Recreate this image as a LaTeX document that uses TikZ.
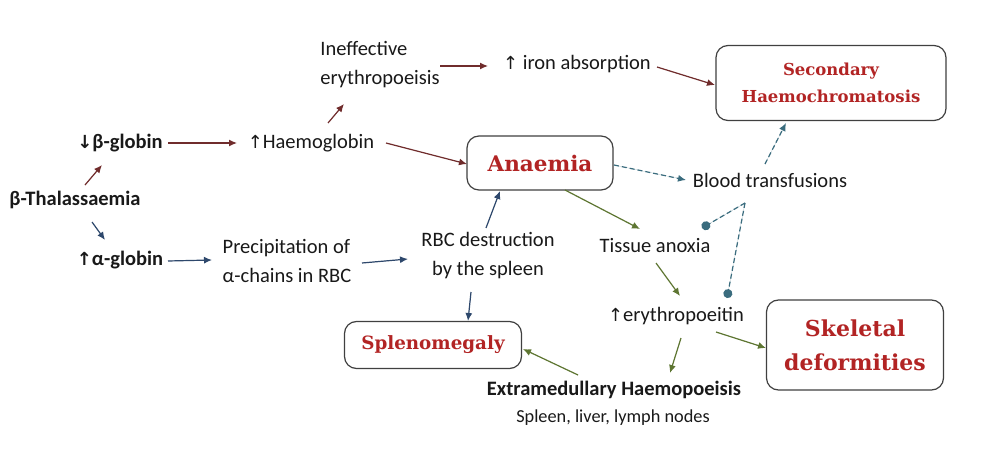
\documentclass[tikz,border=0pt]{standalone}
\usepackage{fontspec}
\setmainfont{Carlito}
\newfontfamily\titlefont{DejaVu Serif}
\newfontfamily\arrfont{DejaVu Sans}
\usetikzlibrary{arrows.meta,calc}
\definecolor{maroon}{RGB}{112,44,44}
\definecolor{navy}{RGB}{46,72,108}
\definecolor{olive}{RGB}{94,118,50}
\definecolor{teal2}{RGB}{58,108,126}
\definecolor{titlered}{RGB}{178,36,36}
\definecolor{boxline}{RGB}{64,64,64}
\newcommand{\up}{{\arrfont\fontsize{18}{18}\selectfont ↑}}
\newcommand{\down}{{\arrfont\fontsize{18}{18}\selectfont ↓}}
\begin{document}
\begin{tikzpicture}[x=1pt,y=-1pt,
  txt/.style={inner sep=0pt,text=black!90,font=\fontsize{20.5}{29}\selectfont},
  btxt/.style={txt,font=\fontsize{20.5}{29}\selectfont\bfseries},
  tbox/.style={draw=boxline,line width=1.2pt,rounded corners=12pt,fill=white,text=titlered,align=center},
  conn/.style={line width=1.2pt,-{Latex[length=8pt,width=7pt]}},
  mar/.style={conn,draw=maroon,fill=maroon},
  nav/.style={conn,draw=navy,fill=navy},
  grn/.style={conn,draw=olive,fill=olive},
  tdash/.style={line width=1.2pt,draw=teal2,dash pattern=on 5pt off 3pt},
  tarr/.style={tdash,-{Latex[length=8pt,width=7pt]},fill=teal2},
  tdot/.style={tdash,-{Circle[length=9pt,width=9pt]},fill=teal2}]
\useasboundingbox[fill=white] (0,0) rectangle (994,460);

\node[btxt] (thal) at (75,200) {β-Thalassaemia};
\node[btxt] (bglob) at (120,143) {\down β-globin};
\node[btxt] (aglob) at (120,260) {\up α-globin};
\node[txt] (hb) at (311,143) {\up Haemoglobin};
\node[txt,align=left] (ineff) at (380,65) {Ineffective\\erythropoeisis};
\node[txt] (iron) at (577,64) {\up\ iron absorption};
\node[tbox,minimum width=230pt,minimum height=75pt,font=\titlefont\bfseries\fontsize{16.5}{27}\selectfont] (sec) at (831,83) {Secondary\\Haemochromatosis};
\node[tbox,minimum width=146pt,minimum height=54pt,font=\titlefont\bfseries\fontsize{21.5}{26}\selectfont] (anaem) at (540,163) {Anaemia};
\node[txt] (blood) at (770,180) {Blood transfusions};
\node[txt,align=left] (precip) at (287,261) {Precipitation of\\α-chains in RBC};
\node[txt,align=center] (rbc) at (488,256) {RBC destruction\\by the spleen};
\node[txt] (tissue) at (655,246) {Tissue anoxia};
\node[txt] (epo) at (676,316) {\up erythropoeitin};
\node[tbox,minimum width=177pt,minimum height=47pt,font=\titlefont\bfseries\fontsize{18.3}{22}\selectfont] (spleno) at (433,345) {Splenomegaly};
\node[tbox,minimum width=177pt,minimum height=90pt,font=\titlefont\bfseries\fontsize{22}{34}\selectfont] (skel) at (855,345) {Skeletal\\deformities};
\node[btxt] (extra) at (614,390) {Extramedullary Haemopoeisis};
\node[txt,font=\fontsize{18.3}{20}\selectfont] (spleen) at (613,418) {Spleen, liver, lymph nodes};

% maroon
\draw[mar] ($(thal)+(10,-15)$) -- ($(bglob)+(-18,22)$);
\draw[mar] ($(bglob)+(48,0)$) -- ($(hb)+(-74,0)$);
\draw[mar] ($(hb)+(17,-20)$) -- ($(ineff)+(-36,39)$);
\draw[mar] ($(hb)+(75,0)$) -- ($(anaem)+(-73,1)$);
\draw[mar] ($(ineff)+(60,1)$) -- ($(iron)+(-89,2)$);
\draw[mar] ($(iron)+(80,3)$) -- ($(sec)+(-116,2)$);
% navy
\draw[nav] ($(thal)+(17,22)$) -- ($(aglob)+(-15,-20)$);
\draw[nav] ($(aglob)+(48,1)$) -- ($(precip)+(-75,-1)$);
\draw[nav] ($(precip)+(75,2)$) -- ($(rbc)+(-80,3)$);
\draw[nav] ($(rbc)+(-2,-28)$) -- ($(anaem)+(-40,28)$);
\draw[nav] ($(rbc)+(-17,36)$) -- ($(spleno)+(35,-24)$);
% dashed teal
\coordinate (bt) at ($(blood)+(-25,23)$);
\draw[tarr] ($(anaem)+(74,2)$) -- ($(blood)+(-84,0)$);
\draw[tarr] ($(blood)+(-5,-16)$) -- ($(sec)+(-45,40)$);
\draw[tdot] (bt) -- ($(tissue)+(47,-18)$);
\draw[tdot] (bt) -- ($(epo)+(51,-18)$);
% green
\draw[grn] ($(anaem)+(25,27)$) -- ($(tissue)+(-15,-17)$);
\draw[grn] ($(tissue)+(1,17)$) -- ($(epo)+(4,-20)$);
\draw[grn] ($(epo)+(5,22)$) -- ($(extra)+(56,-17)$);
\draw[grn] ($(epo)+(40,16)$) -- ($(skel)+(-89,3)$);
\draw[grn] ($(extra)+(-36,-15)$) -- ($(spleno)+(90,4)$);
\end{tikzpicture}
\end{document}
